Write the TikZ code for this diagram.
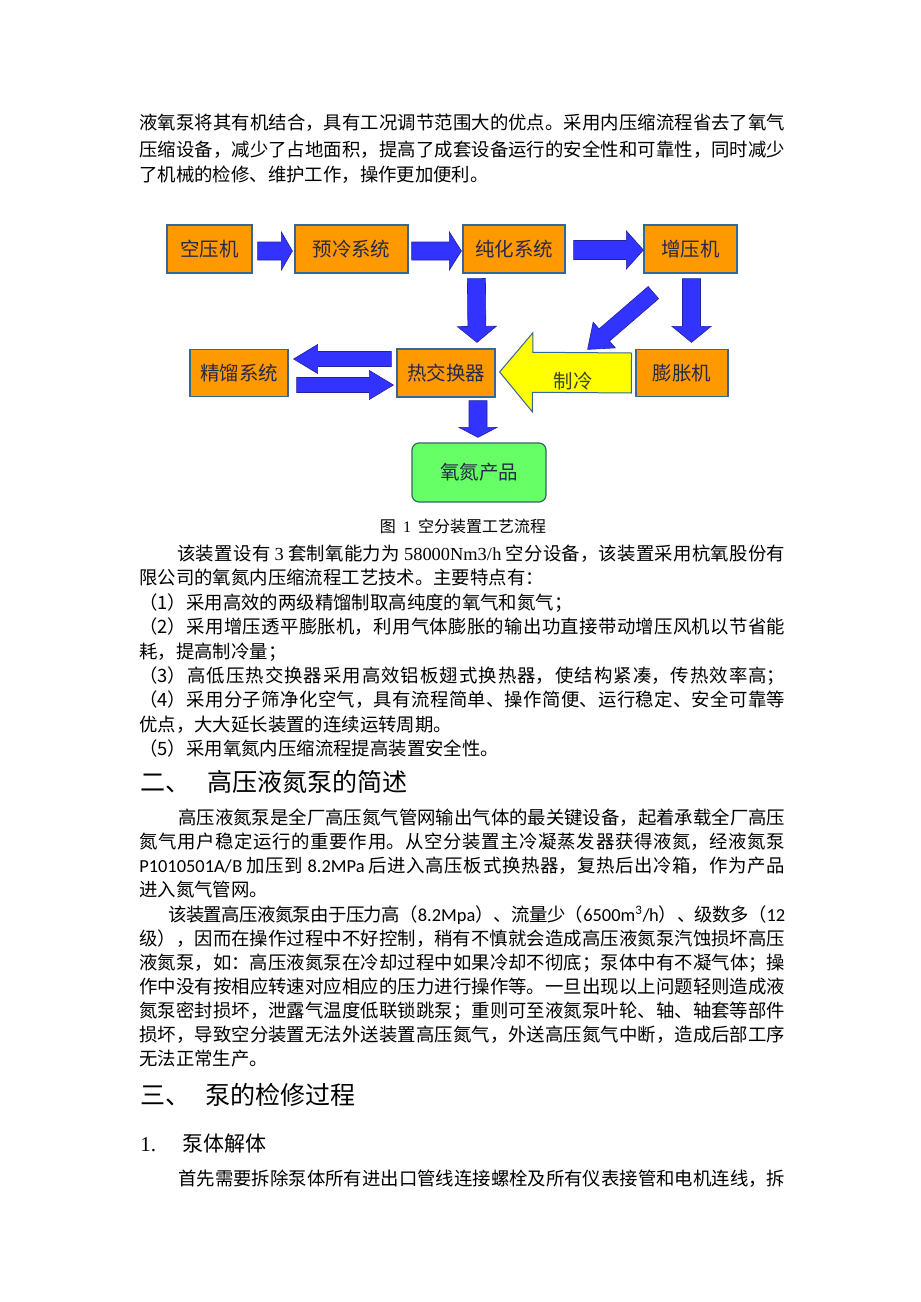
\documentclass[tikz,border=0pt]{standalone}
\usepackage{fontspec}
\setmainfont{Noto Sans CJK SC}
\newfontfamily\serifl{Liberation Serif}
\newfontfamily\calib{Carlito}
\usepackage{tikz}
\usetikzlibrary{calc,positioning}
\XeTeXlinebreaklocale "zh"
\XeTeXlinebreakskip=0pt plus 3pt minus 0.6pt

\newdimen\pxu \pxu=0.647pt

\definecolor{boxorange}{RGB}{255,153,0}
\definecolor{boxedge}{RGB}{51,102,153}
\definecolor{arrowblue}{RGB}{51,51,255}
\definecolor{arrowedge}{RGB}{34,34,160}
\definecolor{coldyellow}{RGB}{255,255,0}
\definecolor{prodgreen}{RGB}{102,255,102}
\definecolor{prodedge}{RGB}{51,102,102}
\definecolor{boxtext}{RGB}{40,40,72}
\definecolor{coldtext}{RGB}{60,70,40}

\tikzset{
  procbox/.style={draw=boxedge, fill=boxorange, line width=1.2\pxu, minimum height=48\pxu,
    inner sep=0pt, text=boxtext, font=\fontsize{12.6pt}{14pt}\selectfont},
  prodbox/.style={draw=prodedge, fill=prodgreen, line width=1.2\pxu, rounded corners=7\pxu,
    inner sep=0pt, text=boxtext, font=\fontsize{12.6pt}{14pt}\selectfont},
  blockarrow/.style={fill=arrowblue, draw=arrowedge, line width=0.6\pxu},
  coldarrow/.style={fill=coldyellow, draw=boxedge, line width=1\pxu},
  bodytxt/.style={anchor=base west, inner sep=0pt, font=\fontsize{11.9pt}{14pt}\selectfont},
  captxt/.style={anchor=base, inner sep=0pt, font=\fontsize{10.35pt}{12pt}\selectfont},
  headtxt/.style={anchor=base west, inner sep=0pt, font=\fontsize{16.2pt}{18pt}\selectfont},
  subheadtxt/.style={anchor=base west, inner sep=0pt, font=\fontsize{13.6pt}{16pt}\selectfont}
}

% block arrow: [style]{from}{to}{half body}{half head}{head length}, sizes in px
\newcommand\fatarrow[6][blockarrow]{%
  \pgfmathsetmacro\fabody{#4*0.647}%
  \pgfmathsetmacro\fahead{#5*0.647}%
  \pgfmathsetmacro\falen{#6*0.647}%
  \path (#2) coordinate (fas) (#3) coordinate (fat);
  \path ($(fat)!\falen pt!(fas)$) coordinate (fah);
  \draw[#1] ($(fas)!\fabody pt!90:(fat)$) -- ($(fah)!\fabody pt!-90:(fas)$)
    -- ($(fah)!\fahead pt!-90:(fas)$) -- (fat) -- ($(fah)!\fahead pt!90:(fas)$)
    -- ($(fah)!\fabody pt!90:(fas)$) -- ($(fas)!\fabody pt!-90:(fat)$) -- cycle;}

% text lines: justified (full) and plain
\newcommand\jline[4]{\node[bodytxt] (#1) at (#2,#3) {\vbox{\hsize=\dimexpr 785\pxu-#2\pxu\relax
  \parindent=0pt \parfillskip=0pt \leftskip=0pt \rightskip=0pt \tolerance=10000 \linepenalty=5000
  \noindent #4\par}};}
\newcommand\pline[4]{\node[bodytxt] (#1) at (#2,#3) {#4};}

\begin{document}
\begin{tikzpicture}[x=0.647pt, y=-0.647pt]
  \path[use as bounding box] (0,0) rectangle (920,1302);

  % Text above the figure
  \jline{ta}{139}{130}{液氧泵将其有机结合，具有工况调节范围大的优点。采用内压缩流程省去了氧气}
  \jline{tb}{139}{156}{压缩设备，减少了占地面积，提高了成套设备运行的安全性和可靠性，同时减少}
  \pline{tc}{139}{181}{了机械的检修、维护工作，操作更加便利。}

  % Process boxes
  \node[procbox, minimum width=85\pxu] (kyj) at (209.5,249) {空压机};
  \node[procbox, minimum width=113\pxu] (ylxt) at (351.5,249) {预冷系统};
  \node[procbox, minimum width=102\pxu] (chxt) at (514,249) {纯化系统};
  \node[procbox, minimum width=93\pxu] (zyj) at (690.5,249) {增压机};
  \node[procbox, minimum width=98\pxu, minimum height=47\pxu] (jlxt) at (239,373) {精馏系统};
  \node[procbox, minimum width=98\pxu] (rjhq) at (446,373) {热交换器};
  \node[procbox, minimum width=92\pxu, minimum height=47\pxu] (pzj) at (682,373) {膨胀机};
  \node[prodbox, minimum width=134\pxu, minimum height=59\pxu] (cp) at (479,472.5) {氧氮产品};

  % Arrows, top row
  \fatarrow{$(kyj.east)+(5,2)$}{$(ylxt.west)+(-2,2)$}{9}{19}{11}
  \fatarrow{$(ylxt.east)+(3,2)$}{$(chxt.west)+(-1,2)$}{9}{19}{12}
  \fatarrow{$(chxt.east)+(8,1)$}{$(zyj.west)+(0,1)$}{9.5}{19}{17}

  % Arrows, down and across
  \fatarrow{$(chxt.south west)+(14,5)$}{$(rjhq.north)+(31,-6)$}{9}{19.5}{16}
  \fatarrow{$(zyj.south)+(1,5)$}{$(pzj.north)+(9.5,-6.5)$}{9}{19.5}{16}
  \fatarrow{$(zyj.south west)+(10,19)$}{$(rjhq.north east)+(92,1)$}{8}{17}{22}
  \fatarrow[coldarrow]{$(pzj.west)+(-4,0)$}{$(rjhq.east)+(4,-1)$}{20}{39.5}{33}
  \node[text=coldtext, font=\fontsize{12.6pt}{14pt}\selectfont, inner sep=0pt] (zl) at (573,381) {制冷};
  \fatarrow{$(rjhq.west)+(-5,-14)$}{$(jlxt.east)+(5,-14)$}{7.5}{14.5}{24}
  \fatarrow{$(jlxt.east)+(8,12)$}{$(rjhq.west)+(-3,12)$}{7.5}{14.5}{24}
  \fatarrow{$(rjhq.south)+(32,3)$}{$(cp.north)+(-1,-5)$}{9}{19}{10}

  % Caption
  \node[captxt] (cap) at (463,532) {图\hspace{0.45em}{\serifl 1}\hspace{0.45em}空分装置工艺流程};

  % Text below the figure
  \jline{pa}{177}{560}{该装置设有 {\serifl 3} 套制氧能力为 {\serifl 58000Nm3/h} 空分设备，该装置采用杭氧股份有}
  \pline{pb}{139}{584}{限公司的氧氮内压缩流程工艺技术。主要特点有：}
  \pline{pc}{139}{609}{（1）采用高效的两级精馏制取高纯度的氧气和氮气；}
  \jline{pd}{139}{633}{（2）采用增压透平膨胀机，利用气体膨胀的输出功直接带动增压风机以节省能}
  \pline{pe}{139}{658}{耗，提高制冷量；}
  \jline{pf}{139}{682}{（3）高低压热交换器采用高效铝板翅式换热器，使结构紧凑，传热效率高；}
  \jline{pg}{139}{706}{（4）采用分子筛净化空气，具有流程简单、操作简便、运行稳定、安全可靠等}
  \pline{ph}{139}{731}{优点，大大延长装置的连续运转周期。}
  \pline{pi}{139}{755}{（5）采用氧氮内压缩流程提高装置安全性。}

  % Section two
  \node[headtxt] (h2a) at (140,791.5) {二、};
  \node[headtxt] (h2b) at (207,791.5) {高压液氮泵的简述};
  \jline{sa}{178}{824}{高压液氮泵是全厂高压氮气管网输出气体的最关键设备，起着承载全厂高压}
  \jline{sb}{139}{848}{氮气用户稳定运行的重要作用。从空分装置主冷凝蒸发器获得液氮，经液氮泵}
  \jline{sc}{139}{872}{{\calib P1010501A/B} 加压到 {\calib 8.2MPa} 后进入高压板式换热器，复热后出冷箱，作为产品}
  \pline{sd}{139}{896}{进入氮气管网。}
  \jline{se}{168}{921}{该装置高压液氮泵由于压力高（{\calib 8.2Mpa}）、流量少（{\calib 6500m\textsuperscript{3}/h}）、级数多（{\calib 12}}
  \jline{sf}{139}{945}{级），因而在操作过程中不好控制，稍有不慎就会造成高压液氮泵汽蚀损坏高压}
  \jline{sg}{139}{969}{液氮泵，如：高压液氮泵在冷却过程中如果冷却不彻底；泵体中有不凝气体；操}
  \jline{sh}{139}{993}{作中没有按相应转速对应相应的压力进行操作等。一旦出现以上问题轻则造成液}
  \jline{si}{139}{1017}{氮泵密封损坏，泄露气温度低联锁跳泵；重则可至液氮泵叶轮、轴、轴套等部件}
  \jline{sj}{139}{1041}{损坏，导致空分装置无法外送装置高压氮气，外送高压氮气中断，造成后部工序}
  \pline{sk}{139}{1065}{无法正常生产。}

  % Section three
  \node[headtxt] (h3a) at (140,1104.5) {三、};
  \node[headtxt] (h3b) at (205,1104.5) {泵的检修过程};
  \node[subheadtxt] (h31a) at (140,1151) {{\serifl 1.}};
  \node[subheadtxt] (h31b) at (182,1151) {泵体解体};
  \jline{ua}{178}{1185}{首先需要拆除泵体所有进出口管线连接螺栓及所有仪表接管和电机连线，拆}
\end{tikzpicture}
\end{document}
